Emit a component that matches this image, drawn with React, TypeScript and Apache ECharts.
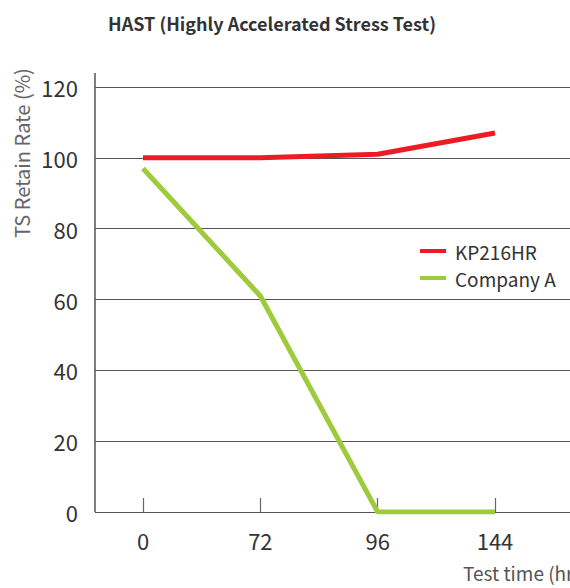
import React, { useEffect, useRef } from "react";
import * as echarts from "echarts";

const categories = ["0", "72", "96", "144"];
const kp216hr = [100, 100, 101, 107];
const companyA = [97, 61, 0, 0];
const seriesNames = ["KP216HR", "Company A"];
const yMin = 0;
const yMax = 120;
const yInterval = 20;

const FONT = '"Noto Sans CJK SC", "Noto Sans", sans-serif';

export default function App() {
  const ref = useRef<HTMLDivElement>(null);
  useEffect(() => {
    if (!ref.current) return;
    const chart = echarts.init(ref.current, null, { renderer: "svg" });
    chart.setOption({
      animation: false,
      backgroundColor: "#ffffff",
      textStyle: { fontFamily: FONT },
      title: {
        text: "HAST (Highly Accelerated Stress Test)",
        left: 267,
        top: 9,
        textAlign: "center",
        textStyle: { fontFamily: FONT, fontSize: 18, fontWeight: "bold", color: "#333" },
      },
      legend: {
        data: seriesNames,
        left: 415,
        top: 236,
        orient: "vertical",
        icon: "rect",
        itemWidth: 26,
        itemHeight: 4,
        itemGap: 7,
        textStyle: { fontFamily: FONT, fontSize: 19, color: "#333", lineHeight: 20, padding: [0, 0, 0, 4] },
      },
      grid: [
        { left: 95, right: 0, top: 87, bottom: 76 },
        { left: 143, right: 75, top: 87, bottom: 76 },
      ],
      xAxis: [
        { gridIndex: 0, type: "value", show: false, min: 0, max: 1 },
        {
          gridIndex: 1,
          type: "category",
          data: categories,
          boundaryGap: false,
          axisLine: { show: false },
          axisTick: { show: true, inside: true, length: 14, lineStyle: { color: "#666", width: 1.2 } },
          axisLabel: { fontFamily: FONT, fontSize: 22, color: "#333", margin: 17 },
          splitLine: { show: false },
        },
      ],
      yAxis: [
        {
          gridIndex: 0,
          type: "value",
          min: yMin,
          max: yMax,
          interval: yInterval,
          axisLine: { show: false },
          axisTick: { show: false },
          axisLabel: { fontFamily: FONT, fontSize: 22, color: "#333", margin: 17 },
          splitLine: { show: true, lineStyle: { color: "#555", width: 1 } },
        },
        {
          gridIndex: 1,
          type: "value",
          min: yMin,
          max: yMax,
          interval: yInterval,
          show: false,
        },
      ],
      graphic: [
        {
          type: "line",
          shape: { x1: 95, y1: 73, x2: 95, y2: 512 },
          style: { stroke: "#555", lineWidth: 1.5 },
        },
        {
          type: "text",
          x: 21,
          y: 153,
          rotation: Math.PI / 2,
          style: {
            text: "TS Retain Rate (%)",
            fontFamily: FONT,
            fontSize: 20,
            fill: "#666",
            textAlign: "center",
            textVerticalAlign: "middle",
          },
        },
        {
          type: "text",
          x: 463,
          y: 572,
          style: {
            text: "Test time (hr)",
            fontFamily: FONT,
            fontSize: 19,
            fill: "#555",
            textAlign: "left",
            textVerticalAlign: "middle",
          },
        },
      ],
      series: [
        {
          name: seriesNames[0],
          type: "line",
          xAxisIndex: 1,
          yAxisIndex: 1,
          data: kp216hr,
          symbol: "none",
          lineStyle: { color: "#ed1c24", width: 5 },
          itemStyle: { color: "#ed1c24" },
          z: 3,
        },
        {
          name: seriesNames[1],
          type: "line",
          xAxisIndex: 1,
          yAxisIndex: 1,
          data: companyA,
          symbol: "none",
          lineStyle: { color: "#9dcb3b", width: 5 },
          itemStyle: { color: "#9dcb3b" },
          z: 2,
        },
      ],
    });
    return () => chart.dispose();
  }, []);
  return <div ref={ref} style={{ width: 570, height: 588, position: "absolute", left: 0, top: 0 }} />;
}
